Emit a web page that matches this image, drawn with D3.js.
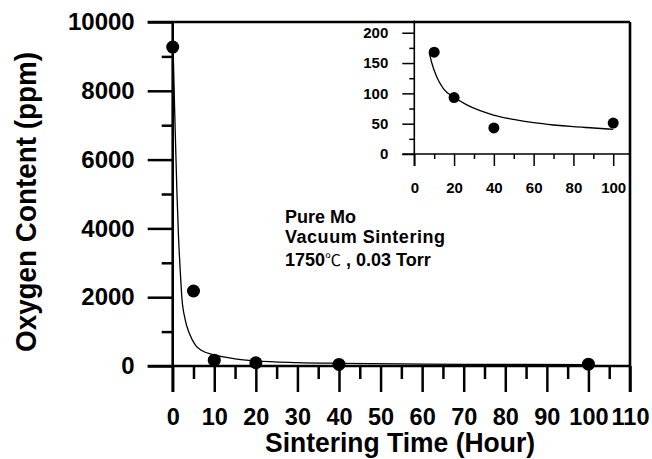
<!DOCTYPE html>
<html>
<head>
<meta charset="utf-8">
<script src="https://cdn.jsdelivr.net/npm/d3@7"></script>
<style>
  body { margin: 0; background: #fff; }
  svg { display: block; font-family: "Liberation Sans", Arial, sans-serif; }
  .axis text { font-weight: bold; fill: #000; }
  .axis line { stroke: #000; }
</style>
</head>
<body>
<div id="chart"></div>
<script>
// measured points
const hours = [0, 5, 10, 20, 40, 100];
const oxygen = [9270, 2180, 170, 95, 45, 52];

// fitted curve
const fitHours = [0.1, 0.5, 1.0, 1.4, 1.8, 2.2, 3.0, 4.0, 5.5, 7, 10, 15, 20, 30, 40, 55, 70, 85, 100];
const fitOxygen = [9250, 7300, 5100, 3750, 2800, 2000, 1350, 950, 600, 450, 320, 210, 150, 100, 78, 60, 50, 45, 40];

// inset (zoom on the tail)
const insetHours = [10, 20, 40, 100];
const insetOxygen = [168, 93, 43, 51];
const insetFitHours = [7.6, 8.8, 11.3, 14.6, 20, 26.4, 33.1, 39.8, 49.9, 60, 70, 80, 90.2, 100];
const insetFitOxygen = [166, 150, 127, 108, 93.5, 81, 71.4, 64.3, 57, 51.6, 47.8, 45, 42.9, 40.7];

// ticks
const xMajor = [0, 10, 20, 30, 40, 50, 60, 70, 80, 90, 100, 110];
const xMinor = [5, 15, 25, 35, 45, 55, 65, 75, 85, 95, 105];
const yMajor = [0, 2000, 4000, 6000, 8000, 10000];
const yMinor = [1000, 3000, 5000, 7000, 9000];
const insetXMajor = [0, 20, 40, 60, 80, 100];
const insetXMinor = [10, 30, 50, 70, 90];
const insetYMajor = [0, 50, 100, 150, 200];
const insetYMinor = [25, 75, 125, 175];

const width = 652;
const height = 459;

const svg = d3.select("#chart")
              .append("svg")
              .attr("width", width)
              .attr("height", height);

const x = d3.scaleLinear().domain([0, 110]).range([172.7, 630]);
const y = d3.scaleLinear().domain([0, 10000]).range([366, 22]);

const xi = d3.scaleLinear().domain([0, 100]).range([414.3, 613.2]);
const yi = d3.scaleLinear().domain([0, 220]).range([154, 20.6]);

const plain = d3.format("d");

// ---- main axes ----
svg.append("g")
   .attr("class", "axis")
   .attr("transform", "translate(0," + y(0) + ")")
   .call(d3.axisBottom(x).tickValues(xMajor).tickSize(26).tickPadding(16).tickFormat(plain))
   .call(g => g.select(".domain").remove())
   .call(g => g.selectAll("line").attr("stroke-width", 2.5))
   .call(g => g.selectAll("text").attr("font-size", "23.5px"));

svg.append("g")
   .attr("class", "axis")
   .attr("transform", "translate(0," + y(0) + ")")
   .call(d3.axisBottom(x).tickValues(xMinor).tickSize(13).tickFormat(""))
   .call(g => g.select(".domain").remove())
   .call(g => g.selectAll("line").attr("stroke-width", 2.5));

svg.append("g")
   .attr("class", "axis")
   .attr("transform", "translate(" + x(0) + ",0)")
   .call(d3.axisLeft(y).tickValues(yMajor).tickSize(25).tickPadding(13).tickFormat(plain))
   .call(g => g.select(".domain").remove())
   .call(g => g.selectAll("line").attr("stroke-width", 2.5))
   .call(g => g.selectAll("text").attr("font-size", "24px"));

svg.append("g")
   .attr("class", "axis")
   .attr("transform", "translate(" + x(0) + ",0)")
   .call(d3.axisLeft(y).tickValues(yMinor).tickSize(11).tickFormat(""))
   .call(g => g.select(".domain").remove())
   .call(g => g.selectAll("line").attr("stroke-width", 2.5));

// frame lines
const frame = [
  [x(0) - 25, y(0), x(110), y(0)],
  [x(0), y(10000), x(0), y(0) + 26],
  [x(0) - 25, y(10000), x(110), y(10000)],
  [x(110), y(10000), x(110), y(0) + 26]
];
svg.selectAll(".frame")
   .data(frame)
   .enter()
   .append("line")
    .attr("class", "frame")
    .attr("x1", d => d[0]).attr("y1", d => d[1])
    .attr("x2", d => d[2]).attr("y2", d => d[3])
    .attr("stroke", "#000")
    .attr("stroke-width", 2.6);

// main curve + dots
const mainLine = d3.line()
                   .x(d => x(d[0]))
                   .y(d => y(d[1]))
                   .curve(d3.curveMonotoneX);

svg.append("path")
   .datum(fitHours.map((h, i) => [h, fitOxygen[i]]))
   .attr("d", mainLine)
   .attr("fill", "none")
   .attr("stroke", "#000")
   .attr("stroke-width", 1.3);

svg.selectAll(".dot")
   .data(hours.map((h, i) => [h, oxygen[i]]))
   .enter()
   .append("circle")
    .attr("class", "dot")
    .attr("cx", d => x(d[0]))
    .attr("cy", d => y(d[1]))
    .attr("r", 6.5)
    .attr("fill", "#000");

// ---- inset ----
svg.append("g")
   .attr("class", "axis")
   .attr("transform", "translate(0," + yi(0) + ")")
   .call(d3.axisBottom(xi).tickValues(insetXMajor).tickSize(12).tickPadding(16))
   .call(g => g.select(".domain").remove())
   .call(g => g.selectAll("line").attr("stroke-width", 1.5))
   .call(g => g.selectAll("text").attr("font-size", "15px"));

svg.append("g")
   .attr("class", "axis")
   .attr("transform", "translate(0," + yi(0) + ")")
   .call(d3.axisBottom(xi).tickValues(insetXMinor).tickSize(5).tickFormat(""))
   .call(g => g.select(".domain").remove())
   .call(g => g.selectAll("line").attr("stroke-width", 1.5));

svg.append("g")
   .attr("class", "axis")
   .attr("transform", "translate(" + xi(0) + ",0)")
   .call(d3.axisLeft(yi).tickValues(insetYMajor).tickSize(12).tickPadding(14))
   .call(g => g.select(".domain").remove())
   .call(g => g.selectAll("line").attr("stroke-width", 1.5))
   .call(g => g.selectAll("text").attr("font-size", "15px"));

svg.append("g")
   .attr("class", "axis")
   .attr("transform", "translate(" + xi(0) + ",0)")
   .call(d3.axisLeft(yi).tickValues(insetYMinor).tickSize(5).tickFormat(""))
   .call(g => g.select(".domain").remove())
   .call(g => g.selectAll("line").attr("stroke-width", 1.5));

const insetFrame = [
  [xi(0) - 12, yi(0), x(110), yi(0)],
  [xi(0), yi(220), xi(0), yi(0) + 12]
];
svg.selectAll(".iframe")
   .data(insetFrame)
   .enter()
   .append("line")
    .attr("class", "iframe")
    .attr("x1", d => d[0]).attr("y1", d => d[1])
    .attr("x2", d => d[2]).attr("y2", d => d[3])
    .attr("stroke", "#000")
    .attr("stroke-width", 1.6);

const insetLine = d3.line()
                    .x(d => xi(d[0]))
                    .y(d => yi(d[1]))
                    .curve(d3.curveMonotoneX);

svg.append("path")
   .datum(insetFitHours.map((h, i) => [h, insetFitOxygen[i]]))
   .attr("d", insetLine)
   .attr("fill", "none")
   .attr("stroke", "#000")
   .attr("stroke-width", 1.3);

svg.selectAll(".idot")
   .data(insetHours.map((h, i) => [h, insetOxygen[i]]))
   .enter()
   .append("circle")
    .attr("class", "idot")
    .attr("cx", d => xi(d[0]))
    .attr("cy", d => yi(d[1]))
    .attr("r", 5.5)
    .attr("fill", "#000");

// ---- titles ----
svg.append("text")
   .attr("x", 400)
   .attr("y", 452)
   .attr("text-anchor", "middle")
   .attr("font-size", "27px")
   .attr("font-weight", "bold")
   .attr("textLength", 270)
   .attr("lengthAdjust", "spacingAndGlyphs")
   .text("Sintering Time (Hour)");

svg.append("text")
   .attr("transform", "translate(36,202) rotate(-90)")
   .attr("text-anchor", "middle")
   .attr("font-size", "29px")
   .attr("font-weight", "bold")
   .attr("textLength", 300)
   .attr("lengthAdjust", "spacingAndGlyphs")
   .text("Oxygen Content (ppm)");

// annotation
const note = svg.append("g")
                .attr("font-size", "18px")
                .attr("font-weight", "bold");
note.append("text").attr("x", 285).attr("y", 223).text("Pure Mo");
note.append("text").attr("x", 285).attr("y", 243).attr("textLength", 160).text("Vacuum Sintering");
const line3 = note.append("text").attr("x", 285).attr("y", 266);
line3.append("tspan").text("1750");
line3.append("tspan")
     .attr("font-weight", "normal")
     .attr("font-family", "'Noto Sans CJK SC', sans-serif")
     .attr("font-size", "16px")
     .text("℃");
line3.append("tspan").text(" , 0.03 Torr");
</script>
</body>
</html>
